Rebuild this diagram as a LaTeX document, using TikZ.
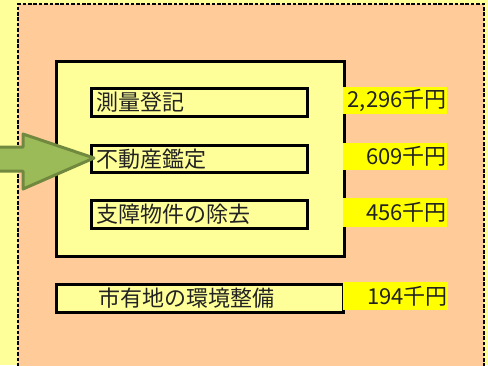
\documentclass[tikz,border=0pt]{standalone}
\usepackage{fontspec}
\setmainfont{Noto Sans CJK JP}
\definecolor{bgyellow}{HTML}{FFFF99}
\definecolor{peach}{HTML}{FFCC99}
\definecolor{hiyellow}{HTML}{FFFF00}
\definecolor{arrowfill}{HTML}{9BBB59}
\definecolor{arrowdraw}{HTML}{71893F}
\definecolor{txt}{HTML}{222222}
\begin{document}
\begin{tikzpicture}[x=1pt,y=-1pt,
  itembox/.style={draw=black,line width=3pt,fill=bgyellow,anchor=north west,inner sep=0pt,
    font=\fontsize{22}{22}\selectfont,text=txt},
  valbox/.style={fill=hiyellow,anchor=north west,inner sep=0pt,
    font=\fontsize{22}{22}\selectfont,text=txt,align=right}]
\useasboundingbox (0,0) rectangle (488,365);
\clip (0,0) rectangle (488,365);
\fill[bgyellow] (0,0) rectangle (488,365);
\fill[peach] (18,4) rectangle (484,370);
\draw[line width=2.8pt,dash pattern=on 3.6pt off 1.8pt] (18,372) -- (18,4) -- (484,4) -- (484,372);
% big box
\node[draw=black,line width=3pt,fill=bgyellow,anchor=north west,inner sep=0pt,
  minimum width=288pt,minimum height=195pt] (big) at (54.5,59.5) {};
% item boxes
\node[itembox,minimum width=216pt,minimum height=28pt,text width=210pt,align=left] (b1) at (90,87) {\hspace*{2pt}測量登記};
\node[itembox,minimum width=216pt,minimum height=27pt,text width=210pt,align=left] (b2) at (90,144) {\hspace*{2pt}不動産鑑定};
\node[itembox,minimum width=216pt,minimum height=28pt,text width=210pt,align=left] (b3) at (90,199) {\hspace*{2pt}支障物件の除去};
\node[itembox,minimum width=287pt,minimum height=28pt,text width=281pt,align=left] (b4) at (55,283) {\hspace*{39pt}市有地の環境整備};
% values
\node[valbox,minimum width=104pt,minimum height=27pt,text width=103pt] (v1) at (343,87) {2,296千円};
\node[valbox,minimum width=104pt,minimum height=27pt,text width=103pt] (v2) at (343,143) {609千円};
\node[valbox,minimum width=104pt,minimum height=29pt,text width=103pt] (v3) at (343,198) {456千円};
\node[valbox,minimum width=105pt,minimum height=28pt,text width=104pt] (v4) at (343,282) {194千円};
% arrow
\draw[arrowdraw,line width=3pt,fill=arrowfill,line join=round]
  (-5,147) -- (23,147) -- (23,134) -- (94,158) -- (23,189) -- (23,171) -- (-5,171) -- cycle;
\end{tikzpicture}
\end{document}
